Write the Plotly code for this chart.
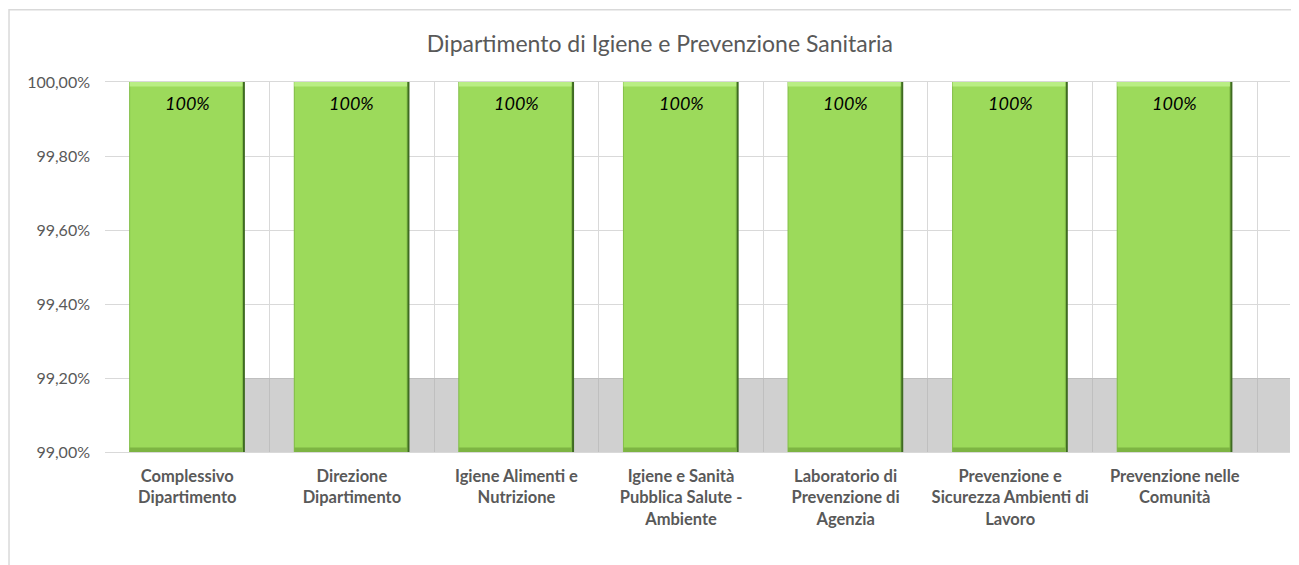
import plotly.graph_objects as go

# categories and values (share of 1 = 100%)
categorie = [
    "Complessivo<br>Dipartimento",
    "Direzione<br>Dipartimento",
    "Igiene Alimenti e<br>Nutrizione",
    "Igiene e Sanità<br>Pubblica Salute -<br>Ambiente",
    "Laboratorio di<br>Prevenzione di<br>Agenzia",
    "Prevenzione e<br>Sicurezza Ambienti di<br>Lavoro",
    "Prevenzione nelle<br>Comunità",
]
valori = [1.0, 1.0, 1.0, 1.0, 1.0, 1.0, 1.0]

y_min, y_max = 0.99, 1.0
y_ticks = [0.99, 0.992, 0.994, 0.996, 0.998, 1.0]

titolo = "Dipartimento di Igiene e Prevenzione Sanitaria"
grigio = "#595959"

n = len(categorie)
basi = [y_min] * n
altezze = [v - y_min for v in valori]
span = y_max - y_min

fig = go.Figure()

# soft floor shadow behind each bar
fig.add_trace(go.Bar(
    x=categorie, y=[span * 0.2] * n, base=basi,
    width=1.0, offset=-0.30,
    marker=dict(color="rgba(170,170,170,0.55)", line=dict(width=0)),
    hoverinfo="skip", showlegend=False,
))

# dark right edge (bevel look)
fig.add_trace(go.Bar(
    x=categorie, y=altezze, base=basi,
    width=0.70, offset=-0.35,
    marker=dict(color="#3F6B22", line=dict(width=0)),
    hoverinfo="skip", showlegend=False,
))

# main green bars
fig.add_trace(go.Bar(
    x=categorie, y=altezze, base=basi,
    width=0.685, offset=-0.35,
    marker=dict(color="#9CDA5B", line=dict(color="#86C24A", width=1)),
    hoverinfo="x+y", showlegend=False,
))

# light top band and darker bottom band of the bevel
band = span * 0.012
fig.add_trace(go.Bar(
    x=categorie, y=[band] * n, base=[v - band for v in valori],
    width=0.685, offset=-0.35,
    marker=dict(color="#B9EE84", line=dict(width=0)),
    hoverinfo="skip", showlegend=False,
))
fig.add_trace(go.Bar(
    x=categorie, y=[band] * n, base=basi,
    width=0.685, offset=-0.35,
    marker=dict(color="#7DB443", line=dict(width=0)),
    hoverinfo="skip", showlegend=False,
))

# data labels near the top of each bar
for c, v in zip(categorie, valori):
    fig.add_annotation(
        x=c, y=v, text="<i>%.0f%%</i>" % (v * 100), showarrow=False,
        yanchor="middle", yshift=-21,
        font=dict(family="Lato", size=18, color="#000000"),
    )

fig.update_layout(
    width=1291, height=557,
    barmode="overlay",
    separators=",.",
    paper_bgcolor="white", plot_bgcolor="white",
    margin=dict(l=97, r=9, t=74, b=113, autoexpand=False),
    title=dict(text=titolo, x=0.505, xanchor="center", y=0.935, yanchor="middle",
               font=dict(family="Lato", size=23, color=grigio)),
    font=dict(family="Lato", color=grigio),
)
fig.update_yaxes(
    range=[y_min, y_max], tickvals=y_ticks, tickformat=".2%",
    showgrid=True, gridcolor="#D9D9D9", gridwidth=1, zeroline=False,
    tickfont=dict(size=16, color=grigio), ticks="", ticklabelstandoff=14,
    automargin=False,
)
fig.update_xaxes(
    tickson="boundaries", showgrid=True, gridcolor="#D9D9D9", gridwidth=1,
    showline=True, linecolor="#D9D9D9", mirror=True,
    tickfont=dict(size=16.5, color=grigio, weight="bold"), ticks="",
    tickangle=0, automargin=False, ticklabelstandoff=9,
)

# outer chart border
fig.add_shape(type="rect", xref="paper", yref="paper",
              x0=-0.081, x1=1.01, y0=-0.33, y1=1.195,
              line=dict(color="#D9D9D9", width=1.5), layer="below")

fig.write_html("out.html")
